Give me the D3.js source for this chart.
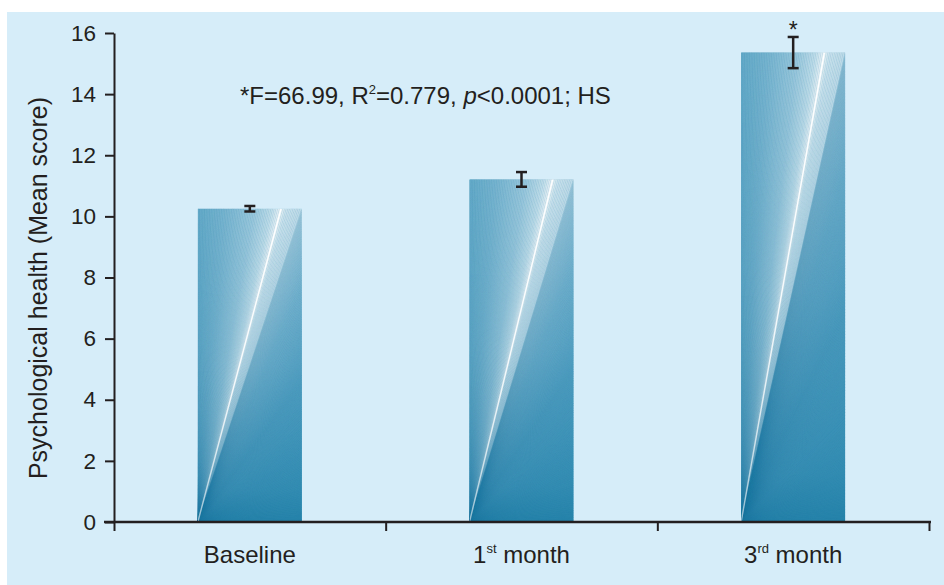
<!DOCTYPE html>
<html>
<head>
<meta charset="utf-8">
<script src="https://cdn.jsdelivr.net/npm/d3@7"></script>
<style>
  body { margin: 0; background: #ffffff; }
  svg { display: block; }
  text { font-family: "Liberation Sans", Arial, Helvetica, sans-serif; fill: #231f20; }
</style>
</head>
<body>
<svg id="chart" width="944" height="585"></svg>
<script>
// Psychological health mean scores at three time points
const categories = ["Baseline", "1st month", "3rd month"];
const meanScores = [10.25, 11.21, 15.36];
const errorMargins = [0.09, 0.24, 0.51];
const significanceMarks = ["", "", "*"];
const yTicks = [0, 2, 4, 6, 8, 10, 12, 14, 16];
const yTitle = "Psychological health (Mean score)";

const W = 944, H = 585;
const ink = "#231f20";
const svg = d3.select("#chart");

// panel background
svg.append("rect")
  .attr("x", 7).attr("y", 12)
  .attr("width", W - 7).attr("height", H - 12)
  .attr("fill", "#d6edf9");

const plot = { left: 114, right: 929, top: 33, bottom: 522 };

const y = d3.scaleLinear().domain([0, 16]).range([plot.bottom, plot.top]);
const x = d3.scaleBand()
  .domain(categories)
  .range([plot.left, plot.right])
  .paddingInner(0.617)
  .paddingOuter(0.3085);
const xEdge = d3.scaleLinear().domain([0, categories.length]).range([plot.left, plot.right]);

const defs = svg.append("defs");

// vertical darkening applied over each bar
const shade = defs.append("linearGradient")
  .attr("id", "barShade")
  .attr("x1", 0).attr("y1", 0).attr("x2", 0).attr("y2", 1);
shade.append("stop").attr("offset", 0).attr("stop-color", "#0b6a93").attr("stop-opacity", 0);
shade.append("stop").attr("offset", 0.5).attr("stop-color", "#0b6a93").attr("stop-opacity", 0.05);
shade.append("stop").attr("offset", 0.9).attr("stop-color", "#0b6a93").attr("stop-opacity", 0.2);
shade.append("stop").attr("offset", 1).attr("stop-color", "#0b6a93").attr("stop-opacity", 0.36);

// colour of the fan by perimeter position: 0..1 along top edge, 1..2 down the right edge
const fanColor = d3.scaleLinear()
  .domain([0, 0.25, 0.55, 0.72, 0.8, 0.85, 1.0, 1.25, 1.55, 2.0])
  .range(["#6aaecb", "#80bad3", "#a8d0e2", "#d2e8f1", "#ffffff", "#dcedf4", "#cfe5ef",
          "#8ec3da", "#5aa5c6", "#3592b8"])
  .interpolate(d3.interpolateRgb)
  .clamp(true);

const bars = categories.map((c, i) => {
  const x0 = x(c), w = x.bandwidth();
  const top = y(meanScores[i]), h = y(0) - top;
  return { c, i, x0, w, top, h, bottom: y(0) };
});

bars.forEach(b => {
  defs.append("clipPath").attr("id", "clip" + b.i)
    .append("rect").attr("x", b.x0).attr("y", b.top).attr("width", b.w).attr("height", b.h);

  const per = t => t <= 1 ? [b.x0 + t * b.w, b.top] : [b.x0 + b.w, b.top + (t - 1) * b.h];
  const corner = [b.x0, b.bottom];

  const g = svg.append("g").attr("clip-path", `url(#clip${b.i})`);
  g.append("rect").attr("x", b.x0).attr("y", b.top).attr("width", b.w).attr("height", b.h)
    .attr("fill", "#5aa5c6");

  // fan of wedges from the bottom-left corner
  const N = 300;
  const wedges = d3.range(N).map(k => [2 * k / N, 2 * (k + 1) / N]);
  g.selectAll("path.wedge").data(wedges).join("path")
    .attr("class", "wedge")
    .attr("d", ([t0, t1]) => {
      const p0 = per(t0), p1 = per(t1);
      return `M${corner}L${p0}L${p1}Z`;
    })
    .attr("fill", ([t0, t1]) => fanColor((t0 + t1) / 2))
    .attr("stroke", ([t0, t1]) => fanColor((t0 + t1) / 2))
    .attr("stroke-width", 0.4);

  // fine rays that give the fan its grain
  const spacing = 1.7;
  const nRays = Math.round((b.w + b.h) / spacing);
  const rays = d3.range(nRays).map(k => {
    const s = k * spacing;
    return s <= b.w ? s / b.w : 1 + (s - b.w) / b.h;
  });
  g.selectAll("line.ray").data(rays).join("line")
    .attr("class", "ray")
    .attr("x1", corner[0]).attr("y1", corner[1])
    .attr("x2", t => per(t)[0]).attr("y2", t => per(t)[1])
    .attr("stroke", "#2a84ab")
    .attr("stroke-opacity", 0.32)
    .attr("stroke-width", 0.6);

  g.append("rect").attr("x", b.x0).attr("y", b.top).attr("width", b.w).attr("height", b.h)
    .attr("fill", "url(#barShade)");

  // bright streak across the fan
  const tip = per(0.8);
  const streak = defs.append("linearGradient")
    .attr("id", "streak" + b.i)
    .attr("gradientUnits", "userSpaceOnUse")
    .attr("x1", corner[0]).attr("y1", corner[1]).attr("x2", tip[0]).attr("y2", tip[1]);
  streak.append("stop").attr("offset", 0).attr("stop-color", "#ffffff").attr("stop-opacity", 0.55);
  streak.append("stop").attr("offset", 0.5).attr("stop-color", "#ffffff").attr("stop-opacity", 0.9);
  streak.append("stop").attr("offset", 1).attr("stop-color", "#ffffff").attr("stop-opacity", 1);
  g.append("line")
    .attr("x1", corner[0]).attr("y1", corner[1]).attr("x2", tip[0]).attr("y2", tip[1])
    .attr("stroke", `url(#streak${b.i})`)
    .attr("stroke-width", 1.4);
});

// error bars
const capHalf = 5.5;
const eb = svg.append("g").attr("stroke", ink).attr("stroke-width", 2.5).attr("fill", "none");
bars.forEach(b => {
  const cx = b.x0 + b.w / 2;
  const hi = y(meanScores[b.i] + errorMargins[b.i]);
  const lo = y(meanScores[b.i] - errorMargins[b.i]);
  eb.append("line").attr("x1", cx).attr("x2", cx).attr("y1", hi).attr("y2", lo);
  eb.append("line").attr("x1", cx - capHalf).attr("x2", cx + capHalf).attr("y1", hi).attr("y2", hi);
  eb.append("line").attr("x1", cx - capHalf).attr("x2", cx + capHalf).attr("y1", lo).attr("y2", lo);
  if (significanceMarks[b.i]) {
    svg.append("text")
      .attr("x", cx).attr("y", hi + 1)
      .attr("text-anchor", "middle")
      .attr("font-size", 23)
      .text(significanceMarks[b.i]);
  }
});

// y axis
const gy = svg.append("g")
  .attr("transform", `translate(${plot.left},0)`)
  .call(d3.axisLeft(y).tickValues(yTicks).tickSize(9).tickSizeOuter(0).tickPadding(9));
gy.attr("font-size", 22.5).attr("font-family", '"Liberation Sans", Arial, sans-serif');
gy.select(".domain").attr("stroke", ink).attr("stroke-width", 2);
gy.selectAll(".tick line").attr("stroke", ink).attr("stroke-width", 2);
gy.selectAll(".tick text").attr("fill", ink);

// x axis with ticks between categories
const gx = svg.append("g")
  .attr("transform", `translate(0,${plot.bottom})`)
  .call(d3.axisBottom(xEdge).tickValues(d3.range(categories.length + 1)).tickFormat("").tickSize(9).tickSizeOuter(0));
gx.select(".domain").attr("d", `M${plot.left - 10},0H${plot.right + 2}`)
  .attr("stroke", ink).attr("stroke-width", 2.5);
gx.selectAll(".tick line").attr("stroke", ink).attr("stroke-width", 2);

// category labels, ordinal suffixes raised
categories.forEach(c => {
  const t = svg.append("text")
    .attr("x", x(c) + x.bandwidth() / 2)
    .attr("y", 563)
    .attr("text-anchor", "middle")
    .attr("font-size", 24);
  const m = c.match(/^(\d+)(st|nd|rd|th)(.*)$/);
  if (m) {
    t.append("tspan").text(m[1]);
    t.append("tspan").attr("font-size", 13).attr("dy", -10).text(m[2]);
    t.append("tspan").attr("dy", 10).text(m[3]);
  } else {
    t.text(c);
  }
});

// y axis title
svg.append("text")
  .attr("transform", "translate(38,288) rotate(-90)")
  .attr("text-anchor", "middle")
  .attr("dy", "0.35em")
  .attr("font-size", 25)
  .text(yTitle);

// statistics note
const note = svg.append("text").attr("x", 240).attr("y", 104).attr("font-size", 24);
note.append("tspan").text("*F=66.99, R");
note.append("tspan").attr("font-size", 13).attr("dy", -10).text("2");
note.append("tspan").attr("dy", 10).text("=0.779, ");
note.append("tspan").attr("font-style", "italic").text("p");
note.append("tspan").text("<0.0001; HS");
</script>
</body>
</html>
